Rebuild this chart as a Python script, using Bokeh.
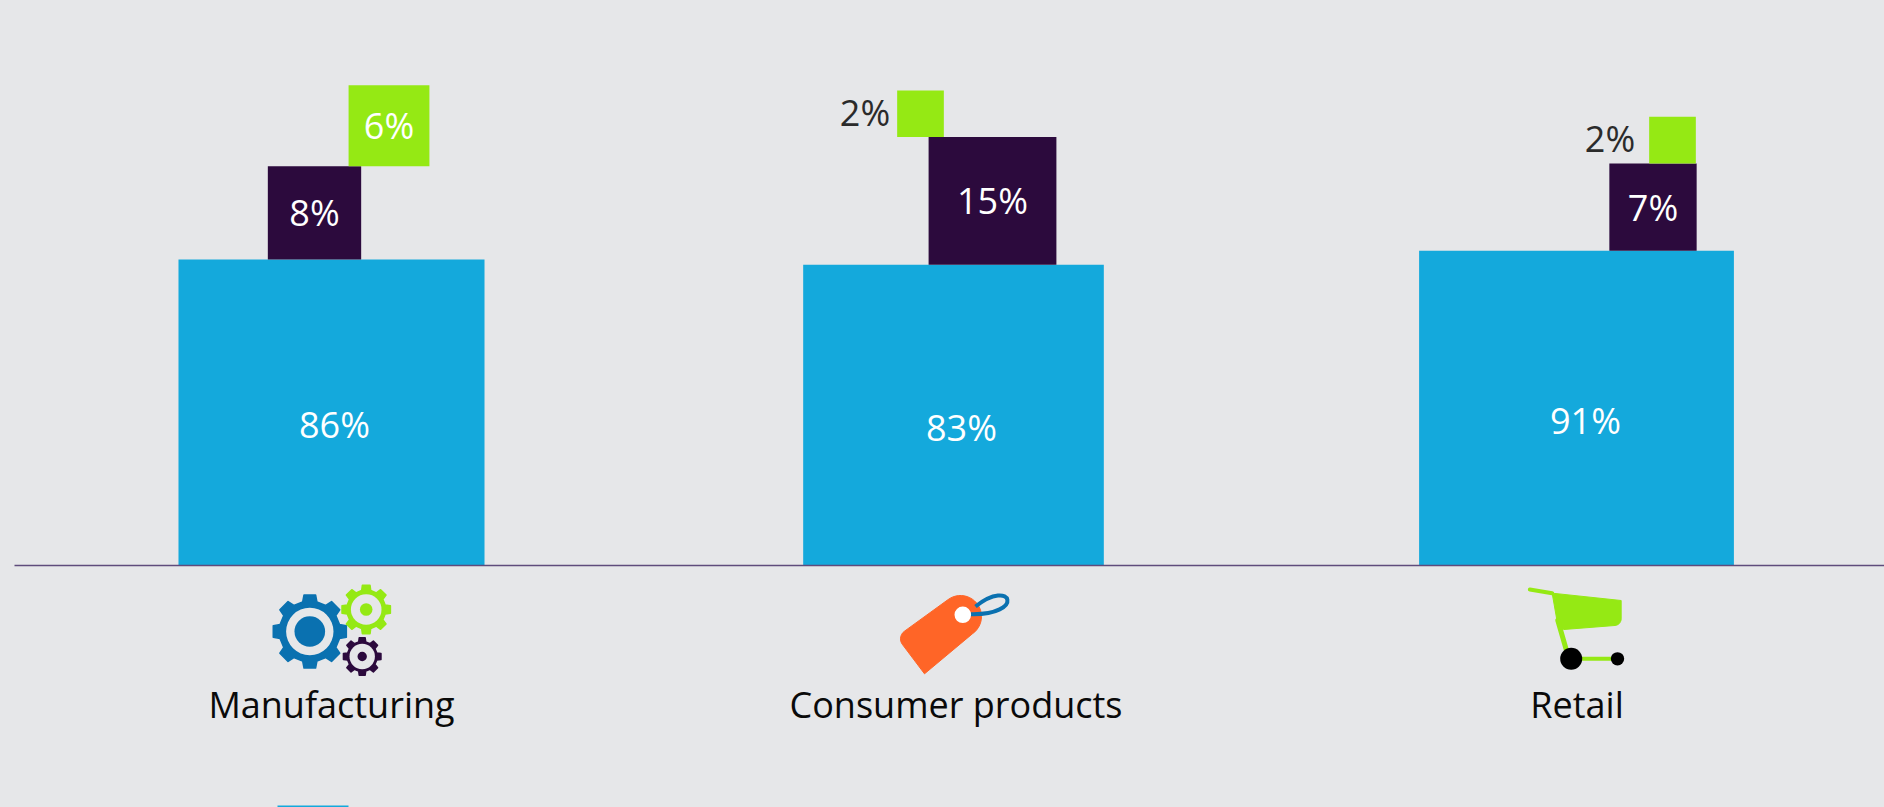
import numpy as np
from bokeh.core.properties import value
from bokeh.embed import file_html
from bokeh.models import ColumnDataSource, Range1d
from bokeh.plotting import figure
from bokeh.resources import INLINE

categories = ["Manufacturing", "Consumer products", "Retail"]
base_values = [86, 83, 91]
middle_values = [8, 15, 7]
top_values = [6, 2, 2]

WIDTH, HEIGHT = 1884, 807
BASELINE = 565
FONT = "Open Sans"
VALUE_SIZE = "36px"
BG, BLUE, PURPLE, GREEN = "#E6E7E9", "#14A9DC", "#2C0A3D", "#95E914"
ORANGE, ICON_BLUE = "#FF6527", "#0A71B0"

# Tiles are squares whose area is proportional to the value.
SIDE_PER_ROOT = 33.0
group_x = np.array([331.0, 953.0, 1576.0])
middle_offset = np.array([-17.0, 39.0, 76.5])
top_offset = np.array([57.5, -33.0, 96.0])
base_label_offset = np.array([3.0, 8.0, 9.0])
outside_gap = np.array([0.0, 7.0, 14.0])

p = figure(width=WIDTH, height=HEIGHT, output_backend="svg", toolbar_location=None,
           x_range=Range1d(0, WIDTH), y_range=Range1d(BASELINE - HEIGHT, BASELINE),
           min_border=0, background_fill_color=BG, border_fill_color=BG,
           outline_line_color=None)
p.axis.visible = False
p.grid.visible = False


def Y(page_y):
    """Height above the baseline for a distance from the top of the page."""
    return BASELINE - np.asarray(page_y, dtype=float)


def side(values):
    return SIDE_PER_ROOT * np.sqrt(np.asarray(values, dtype=float))


def tiles(center, bottom, values, color):
    s = side(values)
    src = ColumnDataSource(dict(left=center - s / 2, right=center + s / 2,
                                bottom=bottom, top=bottom + s))
    p.quad(left="left", right="right", bottom="bottom", top="top", source=src,
           fill_color=color, line_color=None)
    return s


def labels(x, y, text, color, size, align="center"):
    src = ColumnDataSource(dict(x=x, y=y, text=text))
    p.text(x="x", y="y", text="text", source=src, text_color=color,
           text_font=value(FONT), text_font_size=size, text_align=align,
           text_baseline="middle")


base_side = tiles(group_x, np.zeros(3), base_values, BLUE)
middle_x = group_x + middle_offset
middle_side = tiles(middle_x, base_side, middle_values, PURPLE)
top_x = group_x + top_offset
top_bottom = base_side + middle_side
top_side = tiles(top_x, top_bottom, top_values, GREEN)

labels(group_x + base_label_offset, base_side / 2 - 12,
       [f"{v}%" for v in base_values], "#FFFFFF", VALUE_SIZE)
labels(middle_x, base_side + middle_side / 2,
       [f"{v}%" for v in middle_values], "#FFFFFF", VALUE_SIZE)

# The largest top tile holds its label; the small ones carry it on their left.
labels(top_x[:1], top_bottom[:1] + top_side[:1] / 2,
       [f"{top_values[0]}%"], "#FFFFFF", VALUE_SIZE)
labels((top_x - top_side / 2 - outside_gap)[1:], (top_bottom + top_side / 2 + 1.5)[1:],
       [f"{v}%" for v in top_values[1:]], "#2B2B2B", VALUE_SIZE, align="right")

labels(group_x + np.array([0.0, 2.5, 0.5]), np.full(3, Y(704)), categories, "#0A0A0A", "36px")

p.segment(x0=[14], x1=[WIDTH], y0=[0], y1=[0], line_color="#5F4C7C", line_width=1.6)

# Legend swatch cut off by the bottom of the page.
p.quad(left=[277], right=[348], top=Y([805]), bottom=Y([815]), fill_color=BLUE, line_color=None)


def gear(cx, cy, outer, root, ring, hub, color, teeth=8):
    step = 2 * np.pi / teeth
    angles = np.concatenate([
        a + np.array([-0.30, -0.20, 0.20, 0.30]) * step for a in np.arange(teeth) * step
    ])
    radii = np.tile([root, outer, outer, root], teeth)
    p.patch(cx + radii * np.cos(angles), Y(cy + radii * np.sin(angles)),
            fill_color=color, line_color=color, line_width=1.5, line_join="round")
    p.circle(x=[cx], y=Y([cy]), radius=ring, fill_color=BG, line_color=None)
    p.circle(x=[cx], y=Y([cy]), radius=hub, fill_color=color, line_color=None)


gear(309.3, 631, 37, 30.5, 23.7, 15.3, ICON_BLUE)
gear(365.7, 609, 24.5, 19.5, 15.3, 6.3, GREEN)
gear(361.7, 656, 19, 15, 12.7, 4.7, PURPLE)


def from_crop(points, ox, oy):
    pts = np.asarray(points, dtype=float) / 3
    return pts[:, 0] + ox, Y(pts[:, 1] + oy)


def arc(cx, cy, r, start_deg, end_deg, n=16):
    t = np.radians(np.linspace(start_deg, end_deg, n))
    return np.column_stack([cx + r * np.cos(t), cy + r * np.sin(t)])


# Price tag: pointed tip, rounded corner on the left, round head on the right
tag = np.vstack([[(432, 310)],
                 arc(388, 205, 28, 140, 233, 8),
                 arc(540, 138, 63, -127, 55, 24)])
x, y = from_crop(tag, 780, 570)
p.patch(x, y, fill_color=ORANGE, line_color=ORANGE, line_width=1, line_join="round")
sx, sy = from_crop([(570, 131), (585, 108), (735, 135), (695, 20)], 780, 570)
p.bezier(x0=[sx[0]], y0=[sy[0]], x1=[sx[1]], y1=[sy[1]], cx0=[sx[2]], cy0=[sy[2]],
         cx1=[sx[3]], cy1=[sy[3]], line_color=ICON_BLUE, line_width=4)
p.circle(x=[962.3], y=Y([614.3]), radius=8.3, fill_color="#FFFFFF", line_color=None)

# Shopping cart
basket = np.vstack([[(215, 68), (422, 90)],
                    arc(402, 145, 20, 0, 85, 8),
                    [(250, 177), (232, 165)]])
x, y = from_crop(basket, 1480, 570)
p.patch(x, y, fill_color=GREEN, line_color=GREEN, line_width=1)
for seg, w in (([(148, 57), (215, 68)], 4), ([(232, 150), (258, 240)], 5), ([(290, 265), (400, 265)], 4)):
    x, y = from_crop(seg, 1480, 570)
    p.line(x, y, line_color=GREEN, line_width=w, line_cap="round")
p.circle(x=[1570.7, 1617], y=Y([658.3, 658.3]), radius=[11, 6.7], fill_color="#000000", line_color=None)

page = file_html(p, INLINE).replace(
    "<head>", f"<head><style>html,body{{margin:0;background:{BG}}}</style>", 1)
open("out.html", "w").write(page)
